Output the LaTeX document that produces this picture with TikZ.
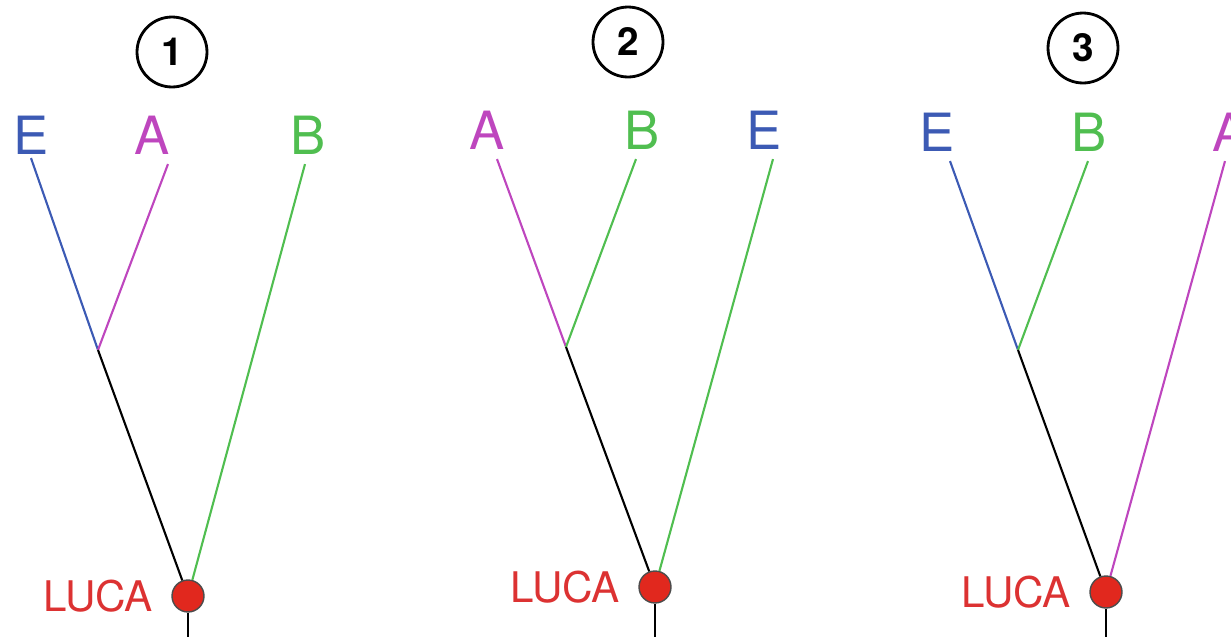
\documentclass[tikz,border=0pt]{standalone}
\usepackage{fontspec}
\setmainfont{TeX Gyre Heros}
\usetikzlibrary{positioning}
\definecolor{eblue}{RGB}{60,90,180}
\definecolor{amag}{RGB}{190,70,190}
\definecolor{bgreen}{RGB}{80,190,80}
\definecolor{lucared}{RGB}{220,50,50}
\definecolor{dotred}{RGB}{225,40,30}

\tikzset{
    taxon/.style={font=\fontsize{30}{30}\selectfont,inner sep=2pt},
    branch/.style={line width=1.2pt},
    treeno/.style={draw,circle,line width=1.6pt,minimum size=1.4cm,inner sep=0pt,font=\fontsize{22}{22}\selectfont\bfseries},
    root/.style={draw=black!70,circle,fill=dotred,line width=0.8pt,minimum size=0.64cm,inner sep=0pt},
    rootlabel/.style={font=\fontsize{24}{24}\selectfont,text=lucared}
}

\begin{document}
\begin{tikzpicture}[x=0.02cm,y=-0.02cm]
    \useasboundingbox (0,0) rectangle (1231,636);

    % Tree 1: (E,A),B
    \node[treeno] (n1) at (172,52) {1};
    \node[taxon,eblue] (e1) at (31,135) {E};
    \node[taxon,amag] (a1) at (152,135) {A};
    \node[taxon,bgreen] (b1) at (308,135) {B};
    \coordinate (j1) at (98,350);
    \node[root] (luca1) at (188,596) {};
    \node[rootlabel,left=7pt of luca1] (l1) {LUCA};
    \coordinate (s1) at (188,640);
    \draw[branch,eblue] (e1.south) -- (j1);
    \draw[branch,amag] (a1.south) ++(16,6) -- (j1);
    \draw[branch,bgreen] (b1.south) ++(-3,6) -- (luca1);
    \draw[branch] (j1) -- (luca1);
    \draw[branch] (luca1.south) -- (s1);

    % Tree 2: (A,B),E
    \node[treeno] (n2) at (628,42) {2};
    \node[taxon,amag] (a2) at (487,130) {A};
    \node[taxon,bgreen] (b2) at (642,130) {B};
    \node[taxon,eblue] (e2) at (764,130) {E};
    \coordinate (j2) at (566,347);
    \node[root] (luca2) at (655,587) {};
    \node[rootlabel,left=7pt of luca2] (l2) {LUCA};
    \coordinate (s2) at (655,640);
    \draw[branch,amag] (a2.south) ++(10,6) -- (j2);
    \draw[branch,bgreen] (b2.south) ++(-6,6) -- (j2);
    \draw[branch,bgreen] (e2.south) ++(9,6) -- (luca2);
    \draw[branch] (j2) -- (luca2);
    \draw[branch] (luca2.south) -- (s2);

    % Tree 3: (E,B),A
    \node[treeno] (n3) at (1083,48) {3};
    \node[taxon,eblue] (e3) at (937,132) {E};
    \node[taxon,bgreen] (b3) at (1089,132) {B};
    \node[taxon,amag] (a3) at (1230,132) {A};
    \coordinate (j3) at (1018,350);
    \node[root] (luca3) at (1106,592) {};
    \node[rootlabel,left=7pt of luca3] (l3) {LUCA};
    \coordinate (s3) at (1106,640);
    \draw[branch,eblue] (e3.south) ++(13,6) -- (j3);
    \draw[branch,bgreen] (b3.south) ++(-1,6) -- (j3);
    \draw[branch,amag] (a3.south) ++(-5,6) -- (luca3);
    \draw[branch] (j3) -- (luca3);
    \draw[branch] (luca3.south) -- (s3);
\end{tikzpicture}
\end{document}
